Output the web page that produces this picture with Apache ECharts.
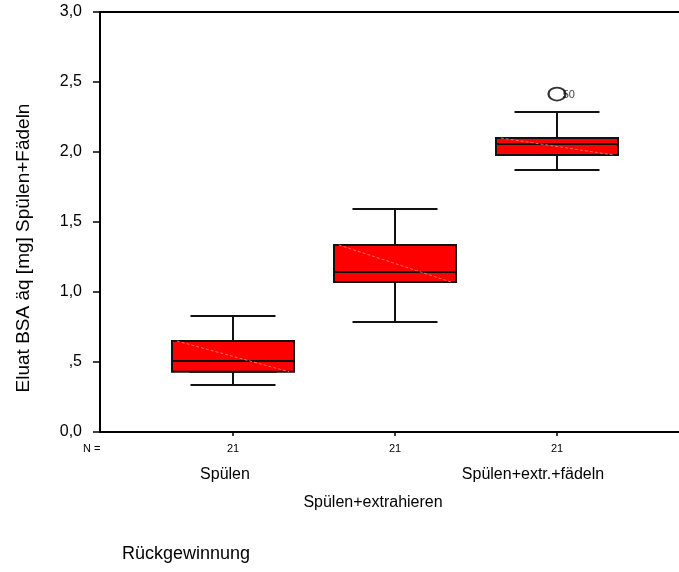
<!DOCTYPE html>
<html><head><meta charset="utf-8">
<script src="https://cdn.jsdelivr.net/npm/echarts@6/dist/echarts.min.js"></script>
<style>html,body{margin:0;padding:0;background:#fff}#c{width:679px;height:572px}</style>
</head><body><div id="c"></div>
<script>
// ---- data ----
const categories = ['Spülen', 'Spülen+extrahieren', 'Spülen+extr.+fädeln'];
const nCounts = [21, 21, 21];
const whiskerLow = [0.336, 0.786, 1.871];
const q1 = [0.430, 1.071, 1.979];
const median = [0.507, 1.143, 2.057];
const q3 = [0.650, 1.336, 2.100];
const whiskerHigh = [0.829, 1.593, 2.286];
const outlierCat = [2];
const outlierVal = [2.414];
const outlierCase = ['50'];
const yTickLabels = ['0,0', ',5', '1,0', '1,5', '2,0', '2,5', '3,0'];
const yTitle = 'Eluat BSA äq [mg] Spülen+Fädeln';
const xTitle = 'Rückgewinnung';

const FONT = 'Liberation Sans, Arial, sans-serif';
const chart = echarts.init(document.getElementById('c'));

// layout constants (pixels)
const BAND = 162, BOX_W = 122, CAP_W = 85;
const FRAME_LEFT = 100, BOX_LEFT = 152, CHART_W = 679;
// value-axis range on the frame grid so that category i sits at value i
const frameMin = -((BOX_LEFT + BAND / 2) - FRAME_LEFT) / BAND;
const frameMax = frameMin + (CHART_W - FRAME_LEFT) / BAND;
const halfBox = (BOX_W / 2) / BAND;

const whiskerData = categories.map((c, i) => [whiskerLow[i], q1[i], median[i], q3[i], whiskerHigh[i]]);
const boxData = categories.map((c, i) => [q1[i], q1[i], median[i], q3[i], q3[i]]);
const outlierData = outlierCat.map((ci, k) => ({ value: [categories[ci], outlierVal[k]], caseId: outlierCase[k] }));
const diagSeries = categories.map((c, i) => ({
  type: 'line', xAxisIndex: 0, yAxisIndex: 0, z: 5, silent: true, symbol: 'none',
  data: [[i - halfBox + 0.03, q3[i]], [i + halfBox - 0.03, q1[i]]],
  lineStyle: { color: '#ff8a8a', width: 0.8, type: [3, 2] }
}));

const shiftPad = [16, 44, 48];
const nameLH = [38, 94, 38];
const rich = { n: { fontSize: 11, lineHeight: 14, fontFamily: FONT, color: '#000' } };
categories.forEach((c, i) => {
  rich['c' + i] = { fontSize: 16, lineHeight: nameLH[i], fontFamily: FONT, color: '#000', padding: [0, shiftPad[i], 0, 0] };
});

const gridGeo = { top: 12, bottom: 140 };
const option = {
  animation: false,
  backgroundColor: '#fff',
  grid: [
    Object.assign({ left: FRAME_LEFT, right: 0 }, gridGeo),
    Object.assign({ left: BOX_LEFT, width: BAND * 3 }, gridGeo),
    Object.assign({ left: BOX_LEFT, width: BAND * 3 }, gridGeo)
  ],
  xAxis: [
    { gridIndex: 0, type: 'value', min: frameMin, max: frameMax, position: 'bottom',
      axisLine: { show: true, onZero: false, lineStyle: { color: '#000', width: 2 } },
      axisTick: { show: false }, axisLabel: { show: false }, splitLine: { show: false } },
    { gridIndex: 0, type: 'value', min: frameMin, max: frameMax, position: 'top',
      axisLine: { show: true, onZero: false, lineStyle: { color: '#000', width: 2 } },
      axisTick: { show: false }, axisLabel: { show: false }, splitLine: { show: false } },
    { gridIndex: 1, type: 'category', data: categories, position: 'bottom',
      axisLine: { show: false, onZero: false },
      axisTick: { show: true, alignWithLabel: true, length: 4, lineStyle: { color: '#000', width: 1.5 } },
      axisLabel: { interval: 0, margin: 10, color: '#000',
        formatter: (v, i) => `{n|${nCounts[i]}}\n{c${i}|${v}}`, rich: rich },
      splitLine: { show: false } },
    { gridIndex: 2, type: 'category', data: categories, show: false }
  ],
  yAxis: [
    { gridIndex: 0, type: 'value', min: 0, max: 3, interval: 0.5,
      axisLine: { show: true, onZero: false, lineStyle: { color: '#000', width: 2 } },
      axisTick: { show: true, length: 7, lineStyle: { color: '#000', width: 1.5 } },
      axisLabel: { margin: 18, fontSize: 16, fontFamily: FONT, color: '#000',
        formatter: v => yTickLabels[Math.round(v / 0.5)] },
      splitLine: { show: false } },
    { gridIndex: 1, type: 'value', min: 0, max: 3, show: false },
    { gridIndex: 2, type: 'value', min: 0, max: 3, show: false }
  ],
  series: [
    { type: 'boxplot', name: 'whiskers', xAxisIndex: 3, yAxisIndex: 2, z: 2,
      boxWidth: [CAP_W, CAP_W], data: whiskerData,
      itemStyle: { color: '#ff0000', borderColor: '#111', borderWidth: 2 } },
    { type: 'boxplot', name: 'boxes', xAxisIndex: 2, yAxisIndex: 1, z: 3,
      boxWidth: [BOX_W, BOX_W], data: boxData,
      itemStyle: { color: '#ff0000', borderColor: '#111', borderWidth: 2 } },
    ...diagSeries,
    { type: 'scatter', name: 'outliers', xAxisIndex: 2, yAxisIndex: 1, z: 6,
      data: outlierData, symbol: 'circle', symbolSize: [17, 13],
      itemStyle: { color: 'rgba(255,255,255,0)', borderColor: '#000', borderWidth: 2 },
      label: { show: true, position: 'right', distance: 0, offset: [-4, 1],
        formatter: p => p.data.caseId, fontSize: 11, fontFamily: FONT, color: '#000' } }
  ],
  graphic: [
    { type: 'text', left: 83, top: 443, style: { text: 'N =', fontSize: 11, fontFamily: FONT, fill: '#000' } },
    { type: 'text', x: 24, y: 248, rotation: Math.PI / 2,
      style: { text: yTitle, fontSize: 19, fontFamily: FONT, fill: '#000', align: 'center', verticalAlign: 'middle' } },
    { type: 'text', left: 122, top: 545, style: { text: xTitle, fontSize: 18, fontFamily: FONT, fill: '#000' } }
  ]
};
chart.setOption(option);
</script></body></html>
